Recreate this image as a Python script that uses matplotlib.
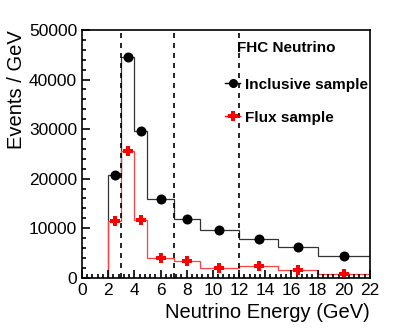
import numpy as np
import matplotlib
matplotlib.use("Agg")
import matplotlib.pyplot as plt
from matplotlib.ticker import MultipleLocator
from matplotlib.lines import Line2D

plt.rcParams['font.family'] = ['Liberation Sans', 'DejaVu Sans']

# bin edges in GeV
edges = [2, 3, 4, 5, 7, 9, 12, 15, 18, 22]
# events / GeV
inclusive = [20650, 44500, 29600, 15950, 11800, 9600, 7900, 6250, 4450]
flux = [11400, 25550, 11650, 3900, 3450, 1900, 2350, 1550, 820]
cuts = [3, 7, 12]

centers = 0.5 * (np.array(edges[:-1]) + np.array(edges[1:]))

fig = plt.figure(figsize=(4.07, 3.28), dpi=100)
ax = fig.add_axes([0.2015, 0.1534, 0.7075, 0.7551])

ax.stairs(inclusive, edges, color='#333333', lw=0.9)
ax.stairs(flux, edges, color='#ff4040', lw=0.9)
ax.plot(centers, inclusive, 'o', color='black', ms=6.2, ls='none')
ax.plot(centers, flux, 'P', color='red', ms=7, mew=0, ls='none')

for c in cuts:
    ax.axvline(c, color='black', lw=1.2, ls=(0, (3, 3)))

ax.set_xlim(0, 22)
ax.set_ylim(0, 50000)
ax.xaxis.set_major_locator(MultipleLocator(2))
ax.xaxis.set_minor_locator(MultipleLocator(0.4))
ax.yaxis.set_major_locator(MultipleLocator(10000))
ax.yaxis.set_minor_locator(MultipleLocator(2000))
ax.tick_params(which='both', direction='in', top=False, right=False, labelsize=12.5, width=1.2)
ax.tick_params(which='major', length=5.5)
ax.tick_params(which='minor', length=3)
for s in ax.spines.values():
    s.set_linewidth(1.2)

ax.set_xlabel('Neutrino Energy (GeV)', fontsize=14.5, loc='right')
ax.set_ylabel('Events / GeV', fontsize=14.5, loc='top', labelpad=2)

ax.text(0.538, 0.927, 'FHC Neutrino', transform=ax.transAxes, fontsize=11,
        fontweight='bold', ha='left', va='center')
handles = [Line2D([], [], marker='o', color='black', ms=5.5, lw=1, ls='-'),
           Line2D([], [], marker='P', color='red', ms=6.5, mew=0, lw=1, ls='-')]
ax.legend(handles, ['Inclusive sample', 'Flux sample'],
          loc='upper left', bbox_to_anchor=(0.476, 0.832), frameon=False,
          prop={'weight': 'bold', 'size': 11}, handlelength=1.0,
          handletextpad=0.3, labelspacing=1.25, borderaxespad=0)

fig.savefig('out.png', dpi=100)
